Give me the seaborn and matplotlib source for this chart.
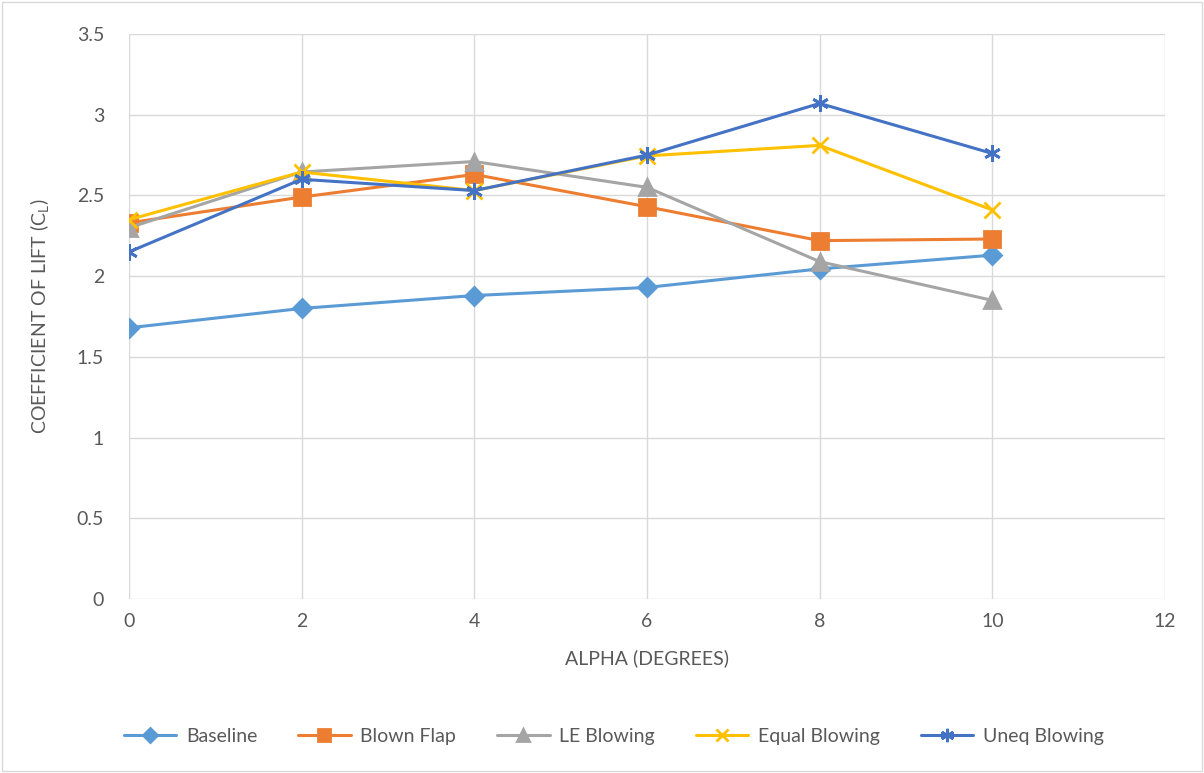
import matplotlib
matplotlib.use("Agg")
import matplotlib.pyplot as plt
import seaborn as sns
import pandas as pd

alpha = [0, 2, 4, 6, 8, 10]
baseline = [1.68, 1.80, 1.88, 1.93, 2.045, 2.13]
blown_flap = [2.33, 2.49, 2.63, 2.43, 2.22, 2.23]
le_blowing = [2.30, 2.645, 2.71, 2.55, 2.09, 1.85]
equal_blowing = [2.35, 2.645, 2.53, 2.745, 2.81, 2.41]
uneq_blowing = [2.15, 2.60, 2.53, 2.75, 3.07, 2.76]

series = {
    "Baseline": baseline,
    "Blown Flap": blown_flap,
    "LE Blowing": le_blowing,
    "Equal Blowing": equal_blowing,
    "Uneq Blowing": uneq_blowing,
}
colors = ["#5B9BD5", "#ED7D31", "#A5A5A5", "#FFC000", "#4472C4"]
markers = ["D", "s", "^", "x", (6, 2, 0)]
msizes = [9, 11, 11, 11, 12]

sns.set_style("white")
plt.rcParams["font.family"] = ["Lato", "DejaVu Sans"]

fig = plt.figure(figsize=(12.04, 7.73), dpi=100)
ax = fig.add_axes([129 / 1204, 1 - 599 / 773, (1165 - 129) / 1204, (599 - 34) / 773])

for (name, vals), c, m, ms in zip(series.items(), colors, markers, msizes):
    df = pd.DataFrame({"alpha": alpha, "cl": vals})
    sns.lineplot(data=df, x="alpha", y="cl", color=c, marker=m, markersize=ms,
                 markeredgecolor=c, markeredgewidth=2, linewidth=2.2,
                 label=name, ax=ax)

ax.set_xlim(0, 12)
ax.set_ylim(0, 3.5)
ax.set_xticks(range(0, 13, 2))
ax.set_yticks([0, 0.5, 1, 1.5, 2, 2.5, 3, 3.5])
ax.set_yticklabels(["0", "0.5", "1", "1.5", "2", "2.5", "3", "3.5"])
ax.grid(True, color="#D9D9D9", linewidth=1)
ax.set_axisbelow(True)
for s in ax.spines.values():
    s.set_visible(False)
ax.tick_params(colors="#595959", labelsize=14, length=0)
ax.tick_params(axis="y", pad=18)
ax.tick_params(axis="x", pad=10)

ax.set_xlabel("ALPHA (DEGREES)", color="#595959", fontsize=14, labelpad=14)
ax.set_ylabel(r"COEFFICIENT OF LIFT (C$_\mathregular{L}$)", color="#595959",
              fontsize=14, labelpad=18)

ax.legend(loc="center", bbox_to_anchor=(0.468, -0.243), ncol=5, frameon=False,
          fontsize=14, labelcolor="#595959", handlelength=2.7, columnspacing=2.1,
          markerscale=0.8, handletextpad=0.5)

fig.patches.append(plt.Rectangle((0.002, 0.002), 0.996, 0.996, transform=fig.transFigure,
                                 fill=False, edgecolor="#D9D9D9", linewidth=1))

fig.savefig("out.png", dpi=100, facecolor="white")
